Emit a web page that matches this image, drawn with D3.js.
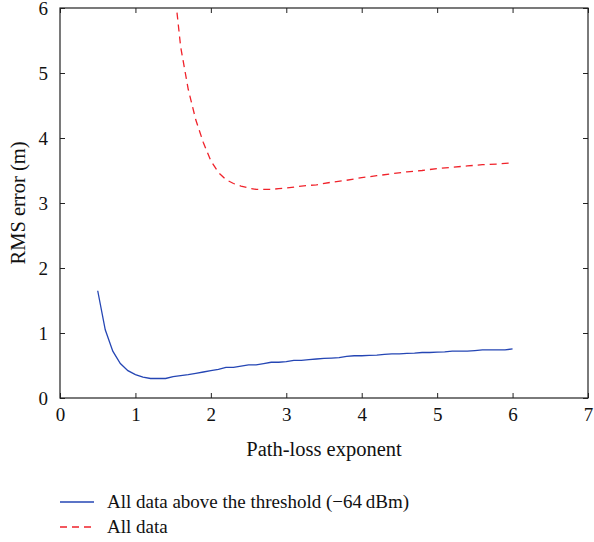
<!DOCTYPE html>
<html>
<head>
<meta charset="utf-8">
<script src="https://cdn.jsdelivr.net/npm/d3@7"></script>
<style>
  body { margin: 0; background: #fff; }
  text { font-family: "Liberation Serif", "DejaVu Serif", serif; fill: #111; }
</style>
</head>
<body>
<script>
// data
const blueX = [0.5, 0.6, 0.7, 0.8, 0.9, 1.0, 1.1, 1.2, 1.3, 1.4, 1.5, 1.6, 1.7, 1.8, 1.9,
  2.0, 2.1, 2.2, 2.3, 2.4, 2.5, 2.6, 2.7, 2.8, 2.9, 3.0, 3.1, 3.2, 3.3, 3.4, 3.5, 3.6,
  3.7, 3.8, 3.9, 4.0, 4.1, 4.2, 4.3, 4.4, 4.5, 4.6, 4.7, 4.8, 4.9, 5.0, 5.1, 5.2, 5.3,
  5.4, 5.5, 5.6, 5.7, 5.8, 5.9, 6.0];
const blueY = [1.65, 1.05, 0.72, 0.53, 0.42, 0.36, 0.32, 0.30, 0.30, 0.30, 0.33, 0.345,
  0.36, 0.38, 0.40, 0.42, 0.44, 0.47, 0.47, 0.49, 0.51, 0.51, 0.53, 0.55, 0.55, 0.56,
  0.58, 0.58, 0.59, 0.60, 0.61, 0.615, 0.62, 0.64, 0.65, 0.65, 0.655, 0.66, 0.67, 0.68,
  0.68, 0.685, 0.69, 0.70, 0.70, 0.705, 0.71, 0.72, 0.72, 0.72, 0.73, 0.74, 0.74, 0.74,
  0.74, 0.755];
const redX = [1.5, 1.6, 1.7, 1.8, 1.9, 2.0, 2.1, 2.2, 2.3, 2.4, 2.5, 2.6, 2.7, 2.8, 2.9,
  3.0, 3.2, 3.4, 3.6, 3.8, 4.0, 4.2, 4.4, 4.6, 4.8, 5.0, 5.2, 5.4, 5.6, 5.8, 6.0];
const redY = [6.48, 5.40, 4.75, 4.28, 3.93, 3.65, 3.47, 3.36, 3.30, 3.26, 3.23, 3.21,
  3.21, 3.21, 3.22, 3.23, 3.26, 3.28, 3.32, 3.35, 3.39, 3.42, 3.45, 3.48, 3.50, 3.53,
  3.55, 3.57, 3.59, 3.60, 3.62];
const xTicks = [0, 1, 2, 3, 4, 5, 6, 7];
const yTicks = [0, 1, 2, 3, 4, 5, 6];
const seriesNames = ["All data above the threshold (\u221264\u2009dBm)", "All data"];

const width = 594, height = 542;
const margin = { top: 8, right: 6, bottom: 144, left: 60 };
const innerWidth = width - margin.left - margin.right;
const innerHeight = height - margin.top - margin.bottom;

const blueColor = "#2546b4";
const redColor = "#f0222a";

const xScale = d3.scaleLinear().domain([0, 7]).range([0, innerWidth]);
const yScale = d3.scaleLinear().domain([0, 6]).range([innerHeight, 0]);

const svg = d3.select("body").append("svg")
  .attr("width", width)
  .attr("height", height);

const mainG = svg.append("g")
  .attr("transform", `translate(${margin.left},${margin.top})`);

mainG.append("clipPath").attr("id", "clip")
  .append("rect").attr("width", innerWidth).attr("height", innerHeight);

// axes with inward ticks on all four sides
const axisStyle = (g) => {
  g.select(".domain").remove();
  g.selectAll(".tick line").attr("stroke", "#222");
  g.selectAll(".tick text").attr("font-size", 19).attr("font-family", "Liberation Serif, serif");
};

mainG.append("g")
  .attr("transform", `translate(0,${innerHeight})`)
  .call(d3.axisBottom(xScale).tickValues(xTicks).tickFormat(d3.format("d"))
    .tickSizeInner(-5).tickSizeOuter(0).tickPadding(10))
  .call(axisStyle);

mainG.append("g")
  .call(d3.axisLeft(yScale).tickValues(yTicks).tickFormat(d3.format("d"))
    .tickSizeInner(-5).tickSizeOuter(0).tickPadding(12))
  .call(axisStyle);

// top and right frame ticks, no labels
mainG.append("g")
  .call(d3.axisTop(xScale).tickValues(xTicks).tickSizeInner(-5).tickSizeOuter(0).tickFormat(""))
  .call(axisStyle)
  .selectAll(".tick text").remove();

mainG.append("g")
  .attr("transform", `translate(${innerWidth},0)`)
  .call(d3.axisRight(yScale).tickValues(yTicks).tickSizeInner(-5).tickSizeOuter(0).tickFormat(""))
  .call(axisStyle)
  .selectAll(".tick text").remove();

mainG.append("rect")
  .attr("width", innerWidth)
  .attr("height", innerHeight)
  .attr("fill", "none")
  .attr("stroke", "#222")
  .attr("stroke-width", 1.2);

const line = d3.line()
  .x((d) => xScale(d[0]))
  .y((d) => yScale(d[1]));

mainG.append("path")
  .datum(blueX.map((x, i) => [x, blueY[i]]))
  .attr("clip-path", "url(#clip)")
  .attr("fill", "none")
  .attr("stroke", blueColor)
  .attr("stroke-width", 1.3)
  .attr("d", line);

mainG.append("path")
  .datum(redX.map((x, i) => [x, redY[i]]))
  .attr("clip-path", "url(#clip)")
  .attr("fill", "none")
  .attr("stroke", redColor)
  .attr("stroke-width", 1.3)
  .attr("stroke-dasharray", "7,5")
  .attr("d", line);

// axis titles
svg.append("text")
  .attr("x", margin.left + innerWidth / 2)
  .attr("y", 456)
  .attr("text-anchor", "middle")
  .attr("font-size", 20.5)
  .text("Path-loss exponent");

svg.append("text")
  .attr("transform", `translate(25,${margin.top + innerHeight / 2}) rotate(-90)`)
  .attr("text-anchor", "middle")
  .attr("font-size", 20.5)
  .text("RMS error (m)");

// legend
const legend = svg.append("g")
  .selectAll("g")
  .data(seriesNames)
  .enter()
  .append("g")
  .attr("transform", (d, i) => `translate(60,${502 + i * 25})`);

legend.append("line")
  .attr("x1", 0).attr("x2", 34)
  .attr("stroke", (d, i) => (i === 0 ? blueColor : redColor))
  .attr("stroke-width", 1.3)
  .attr("stroke-dasharray", (d, i) => (i === 0 ? null : "7,5"));

legend.append("text")
  .attr("x", 47)
  .attr("y", 6)
  .attr("font-size", 19)
  .text((d) => d);
</script>
</body>
</html>
